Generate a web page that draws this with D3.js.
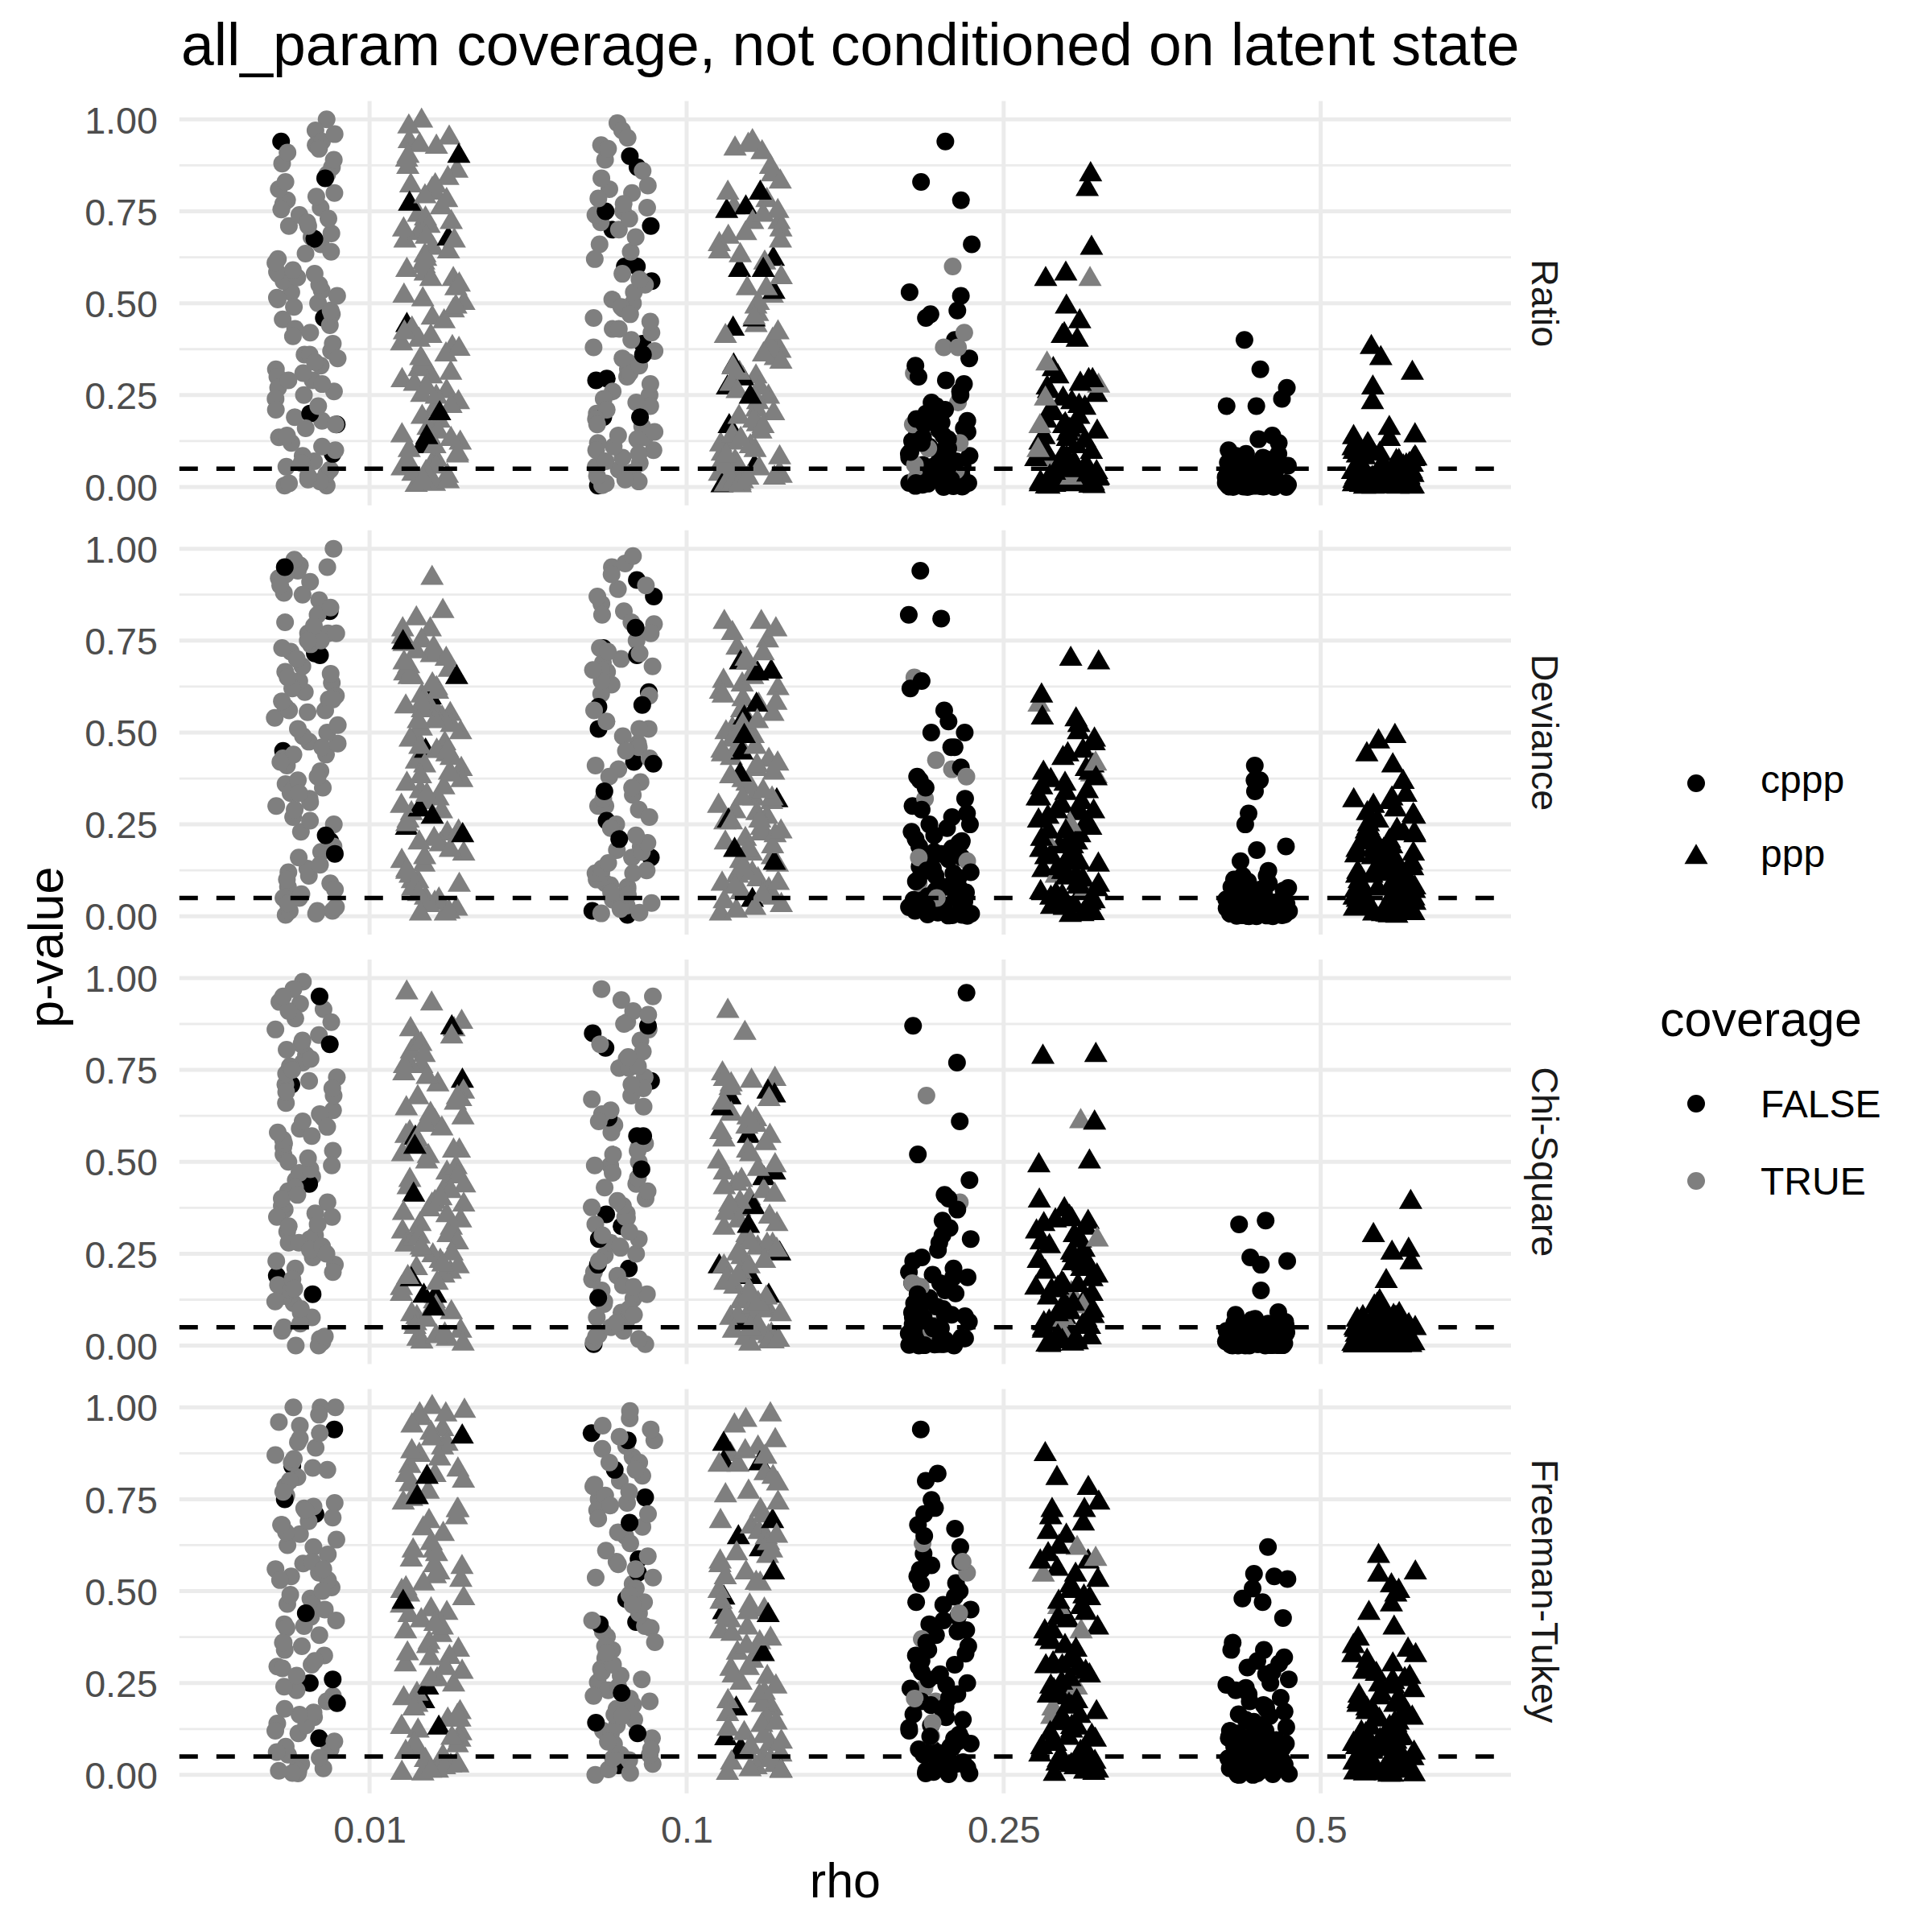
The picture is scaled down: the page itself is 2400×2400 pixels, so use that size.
<!DOCTYPE html>
<html><head><meta charset="utf-8">
<script src="https://cdn.jsdelivr.net/npm/d3@7"></script>
<style>
body{margin:0;background:#fff}
svg text{font-family:"Liberation Sans",Arial,Helvetica,sans-serif}
</style>
</head><body>
<svg id="chart" width="2400" height="2400"></svg>
<script>
// ---------------- data ----------------
const statistics = ["Ratio", "Deviance", "Chi-Square", "Freeman-Tukey"];
const rhoLevels = ["0.01", "0.1", "0.25", "0.5"];
const methods = ["cppp", "ppp"];
const coverageLevels = ["FALSE", "TRUE"];
const yTicks = [0, 0.25, 0.5, 0.75, 1];
const yMinorTicks = [0.125, 0.375, 0.625, 0.875];
const alphaLevel = 0.05;
const titleText = "all_param coverage, not conditioned on latent state";

// each array: 8 groups in order [0.01 cppp, 0.01 ppp, 0.1 cppp, 0.1 ppp, 0.25 cppp, 0.25 ppp, 0.5 cppp, 0.5 ppp]
const ratioNotCovered = [
  [0.94,0.84,0.675,0.46,0.20,0.17,0.09],
  [0.90,0.77,0.675,0.44,0.20,0.135,0.11],
  [0.90,0.87,0.75,0.71,0.70,0.60,0.60,0.56,0.39,0.36,0.295,0.29,0.19,0.19,0.004,0.008],
  [0.80,0.76,0.75,0.62,0.59,0.59,0.53,0.455,0.43,0.33,0.295,0.27,0.245,0.165,0.055,0.004],
  [0.94,0.83,0.78,0.66,0.53,0.52,0.48,0.47,0.46,0.40,0.35,0.33,0.30,0.29,0.28,0.26,0.23,0.20,0.18,0.185,0.17,0.14,0.135,0.12,0.10,0.085,0.06,0.04,0.033,0.018,0.011,0.011,0.011,0.004,0.004,0.03,0.025,0.055,0.09,0.14,0.07,0.05,0.02,0.008,0.015,0.11,0.16,0.22,
   0.25,0.21,0.19,0.175,0.155,0.15,0.13,0.125,0.115,0.105,0.095,0.08,0.075,0.065,0.062,0.058,0.052,0.048,0.045,0.042,0.038,0.036,0.028,0.022,0.016,0.012,0.009,0.006,0.003,0.002,0.001,0.0],
  [0.85,0.81,0.65,0.565,0.58,0.49,0.45,0.41,0.415,0.40,0.32,0.30,0.29,0.29,0.28,0.26,0.215,0.20,0.205,0.165,0.165,0.135,0.13,0.12,0.09,0.09,0.06,0.06,0.033,0.025,0.007,0.007,0.007,0.015,0.047,0.04,0.23,0.18,0.15,0.11,0.075,0.05,0.02,0.01,0.035,0.25,
   0.27,0.24,0.22,0.19,0.17,0.155,0.145,0.125,0.105,0.095,0.085,0.08,0.07,0.065,0.055,0.052,0.045,0.042,0.038,0.03,0.028,0.022,0.018,0.012,0.009,0.005,0.003,0.002,0.001,0.0],
  [0.40,0.32,0.27,0.24,0.22,0.22,0.14,0.13,0.09,0.09,0.085,0.055,0.062,0.066,0.058,0.033,0.04,0.033,0.029,0.011,0.011,0.011,0.011,0.011,0.022,0.022,0.022,0.047,0.005,0.005,0.005,0.015,0.015,0.025,0.035,0.045,0.07,0.075,0.002,0.008,
   0.12,0.10,0.08,0.065,0.06,0.052,0.05,0.048,0.043,0.04,0.038,0.036,0.031,0.028,0.027,0.024,0.02,0.019,0.018,0.016,0.014,0.013,0.012,0.01,0.009,0.007,0.006,0.004,0.003,0.003,0.002,0.001,0.001,0.0,0.0,0.0,0.017,0.021,0.026,0.034,0.044,0.009,0.012,0.005,0.003,0.002,0.001,0.0],
  [0.38,0.35,0.31,0.27,0.23,0.16,0.14,0.135,0.115,0.115,0.10,0.085,0.07,0.077,0.062,0.07,0.047,0.04,0.04,0.04,0.033,0.018,0.015,0.018,0.018,0.007,0.007,0.026,0.005,0.01,0.012,0.03,0.05,0.055,0.09,0.08,0.025,0.002,0.06,
   0.13,0.12,0.105,0.095,0.08,0.075,0.065,0.058,0.052,0.048,0.045,0.042,0.038,0.036,0.032,0.028,0.026,0.022,0.02,0.016,0.014,0.013,0.011,0.009,0.008,0.006,0.004,0.003,0.002,0.001,0.0,0.0,0.024,0.035,0.043,0.019,0.01,0.007,0.003,0.001,0.0,0.0,0.015,0.02,0.005]
];
const ratioCovered = [
  [1.0,0.96,0.94,0.93,0.91,0.89,0.88,0.85,0.83,0.81,0.80,0.78,0.76,0.755,0.74,0.73,0.71,0.71,0.68,0.635,0.62,0.58,0.59,0.58,0.585,0.57,0.535,0.515,0.52,0.51,0.49,0.48,0.456,0.42,0.41,0.36,0.36,0.33,0.34,0.31,0.29,0.29,0.27,0.25,0.24,0.19,0.17,0.14,0.135,0.085,0.065,0.047,0.02,0.015,0.004,0.004,
   0.97,0.92,0.87,0.79,0.77,0.72,0.69,0.66,0.64,0.61,0.56,0.55,0.53,0.50,0.47,0.44,0.43,0.39,0.37,0.35,0.32,0.30,0.28,0.26,0.22,0.21,0.18,0.16,0.12,0.11,0.10,0.07,0.055,0.035,0.03,0.01],
  [0.996,0.95,0.925,0.93,0.89,0.90,0.86,0.82,0.82,0.81,0.80,0.74,0.73,0.72,0.70,0.67,0.67,0.63,0.62,0.58,0.54,0.565,0.565,0.48,0.50,0.41,0.43,0.38,0.375,0.35,0.32,0.28,0.29,0.245,0.22,0.19,0.11,0.10,0.085,0.05,0.055,0.06,0.01,0.01,0.02,0.60,0.52,0.45,0.40,0.33,0.26,0.16,0.14,0.07,0.03,0.005,0.76,0.68,
   0.98,0.94,0.87,0.84,0.79,0.78,0.71,0.69,0.65,0.64,0.61,0.59,0.55,0.51,0.49,0.46,0.42,0.39,0.36,0.34,0.31,0.30,0.27,0.25,0.23,0.21,0.18,0.15,0.13,0.12,0.09,0.075,0.04,0.035,0.015,0.008],
  [0.97,0.95,0.92,0.86,0.82,0.80,0.785,0.74,0.75,0.76,0.70,0.72,0.66,0.565,0.55,0.51,0.49,0.485,0.46,0.43,0.43,0.40,0.35,0.33,0.34,0.31,0.30,0.24,0.22,0.21,0.165,0.185,0.135,0.13,0.14,0.10,0.10,0.055,0.047,0.035,0.03,
   0.99,0.93,0.89,0.84,0.81,0.77,0.73,0.68,0.64,0.62,0.58,0.53,0.50,0.47,0.45,0.42,0.38,0.37,0.32,0.28,0.26,0.25,0.23,0.20,0.17,0.15,0.12,0.11,0.09,0.08,0.07,0.065,0.04,0.02,0.015,0.01,0.005],
  [0.94,0.91,0.92,0.83,0.80,0.78,0.75,0.72,0.72,0.70,0.68,0.66,0.64,0.63,0.54,0.54,0.47,0.46,0.41,0.38,0.36,0.34,0.325,0.31,0.245,0.23,0.20,0.165,0.14,0.12,0.115,0.09,0.06,0.055,0.033,0.025,0.025,0.004,0.015,0.07,0.045,0.01,0.08,0.02,0.50,0.27,0.18,
   0.93,0.87,0.85,0.76,0.74,0.69,0.67,0.61,0.57,0.52,0.49,0.44,0.42,0.40,0.37,0.35,0.30,0.28,0.26,0.21,0.19,0.17,0.15,0.13,0.11,0.10,0.085,0.065,0.05,0.04,0.035,0.03,0.012,0.008,0.006],
  [0.60,0.42,0.38,0.38,0.31,0.23,0.17,0.12,0.105,0.06,0.045,0.025],
  [0.565,0.335,0.275,0.24,0.14,0.165,0.10,0.075,0.025],
  [],
  []
];
const devianceNotCovered = [
  [0.95,0.83,0.715,0.71,0.45,0.205,0.22,0.17],
  [0.745,0.65,0.595,0.45,0.29,0.27,0.24,0.22],
  [0.915,0.87,0.785,0.73,0.71,0.61,0.575,0.57,0.51,0.42,0.415,0.34,0.26,0.21,0.16,0.015,0.004],
  [0.69,0.665,0.66,0.575,0.54,0.49,0.445,0.385,0.315,0.26,0.18,0.145,0.044],
  [0.94,0.82,0.81,0.64,0.62,0.56,0.53,0.50,0.50,0.46,0.46,0.405,0.38,0.37,0.32,0.29,0.28,0.25,0.25,0.20,0.20,0.205,0.175,0.14,0.11,0.08,0.08,0.044,0.044,0.007,0.015,0.004,0.015,0.007,0.05,0.05,0.117,0.03,0.02,0.06,0.10,0.13,0.23,0.16,0.09,
   0.35,0.30,0.27,0.24,0.22,0.21,0.19,0.185,0.17,0.155,0.145,0.135,0.125,0.12,0.105,0.095,0.085,0.075,0.07,0.065,0.055,0.045,0.04,0.035,0.028,0.025,0.018,0.012,0.01,0.005,0.003,0.002,0.001],
  [0.69,0.70,0.60,0.54,0.52,0.535,0.50,0.48,0.43,0.39,0.39,0.375,0.32,0.335,0.32,0.30,0.285,0.285,0.24,0.21,0.21,0.18,0.175,0.16,0.13,0.14,0.11,0.10,0.073,0.044,0.036,0.015,0.022,0.036,0.45,0.41,0.36,0.27,0.23,0.19,0.12,0.06,0.02,0.005,
   0.47,0.44,0.40,0.37,0.35,0.34,0.31,0.29,0.28,0.26,0.25,0.23,0.22,0.20,0.19,0.17,0.165,0.15,0.145,0.125,0.12,0.105,0.09,0.085,0.08,0.065,0.055,0.05,0.04,0.03,0.025,0.012,0.008,0.003],
  [0.41,0.37,0.37,0.34,0.28,0.25,0.18,0.19,0.15,0.124,0.11,0.11,0.10,0.08,0.08,0.08,0.073,0.05,0.05,0.044,0.044,0.05,0.022,0.015,0.007,0.015,0.022,0.029,0.005,0.003,0.01,0.03,0.035,0.06,0.065,0.09,0.012,
   0.095,0.085,0.075,0.07,0.066,0.062,0.058,0.055,0.052,0.048,0.046,0.042,0.04,0.038,0.036,0.033,0.031,0.028,0.026,0.024,0.02,0.018,0.017,0.016,0.013,0.011,0.009,0.008,0.006,0.004,0.004,0.002,0.001,0.001,0.0,0.0,0.027,0.034,0.039,0.043,0.019,0.014,0.007,0.003,0.002,0.0,0.056,0.068,0.077],
  [0.49,0.475,0.44,0.41,0.365,0.33,0.31,0.315,0.32,0.30,0.28,0.275,0.225,0.22,0.22,0.225,0.18,0.175,0.18,0.14,0.13,0.13,0.117,0.088,0.095,0.088,0.044,0.044,0.05,0.036,0.015,0.007,0.022,0.022,0.26,0.24,0.20,0.16,0.15,0.11,0.07,0.06,0.03,0.01,
   0.29,0.27,0.25,0.235,0.21,0.205,0.19,0.17,0.165,0.155,0.145,0.135,0.125,0.12,0.11,0.105,0.10,0.09,0.085,0.08,0.075,0.068,0.065,0.058,0.055,0.048,0.045,0.04,0.038,0.033,0.028,0.025,0.02,0.018,0.012,0.008,0.005,0.004,0.002,0.001,0.23,0.185,0.16,0.14,0.115,0.095,0.078,0.062]
];
const devianceCovered = [
  [1.0,0.94,0.955,0.95,0.93,0.91,0.90,0.875,0.86,0.84,0.80,0.77,0.77,0.75,0.75,0.77,0.73,0.72,0.64,0.65,0.665,0.635,0.59,0.60,0.585,0.59,0.56,0.56,0.555,0.52,0.50,0.475,0.44,0.44,0.46,0.43,0.395,0.35,0.335,0.36,0.335,0.32,0.29,0.27,0.175,0.14,0.13,0.10,0.073,0.05,0.015,0.015,0.007,0.015,0.05,
   0.97,0.92,0.88,0.82,0.79,0.74,0.70,0.68,0.66,0.62,0.61,0.57,0.54,0.51,0.49,0.47,0.42,0.41,0.38,0.37,0.34,0.31,0.30,0.26,0.25,0.23,0.19,0.16,0.12,0.11,0.09,0.08,0.06,0.035,0.025,0.004],
  [0.92,0.83,0.78,0.78,0.76,0.74,0.72,0.71,0.70,0.68,0.67,0.65,0.65,0.61,0.575,0.56,0.53,0.55,0.53,0.51,0.50,0.445,0.45,0.45,0.46,0.40,0.39,0.385,0.36,0.34,0.33,0.30,0.285,0.225,0.18,0.195,0.14,0.125,0.095,0.095,0.036,0.007,0.02,0.007,0.62,0.58,0.48,0.42,0.37,0.26,0.16,0.06,0.69,0.54,
   0.81,0.75,0.73,0.72,0.66,0.63,0.60,0.57,0.56,0.52,0.49,0.47,0.44,0.43,0.41,0.38,0.35,0.32,0.31,0.28,0.25,0.23,0.21,0.20,0.17,0.15,0.12,0.11,0.085,0.075,0.05,0.045,0.03,0.012],
  [0.98,0.95,0.90,0.89,0.83,0.82,0.795,0.75,0.715,0.70,0.67,0.69,0.67,0.665,0.63,0.605,0.51,0.51,0.46,0.45,0.41,0.365,0.32,0.30,0.30,0.24,0.20,0.175,0.16,0.145,0.117,0.117,0.10,0.117,0.073,0.08,0.058,0.029,0.036,
   0.96,0.93,0.87,0.85,0.80,0.77,0.73,0.72,0.68,0.64,0.60,0.56,0.53,0.49,0.47,0.43,0.40,0.38,0.35,0.33,0.29,0.27,0.25,0.22,0.19,0.18,0.13,0.125,0.09,0.085,0.065,0.05,0.045,0.02,0.01,0.008],
  [0.80,0.80,0.75,0.715,0.64,0.65,0.63,0.62,0.575,0.59,0.52,0.53,0.49,0.46,0.465,0.415,0.425,0.38,0.40,0.32,0.32,0.32,0.285,0.255,0.255,0.225,0.22,0.16,0.17,0.11,0.117,0.088,0.073,0.058,0.007,0.022,0.60,0.50,0.44,0.35,0.27,0.20,0.13,0.10,0.05,0.69,
   0.78,0.77,0.73,0.70,0.67,0.61,0.58,0.56,0.55,0.51,0.48,0.45,0.43,0.41,0.39,0.37,0.36,0.34,0.31,0.30,0.28,0.26,0.24,0.23,0.21,0.19,0.18,0.15,0.14,0.12,0.09,0.08,0.065,0.04,0.03,0.015],
  [0.65,0.425,0.40,0.38,0.32,0.16,0.15,0.09,0.05],
  [0.575,0.415,0.385,0.38,0.25,0.21,0.11,0.073],
  [],
  []
];
const chiSquareNotCovered = [
  [0.95,0.82,0.71,0.44,0.19,0.14],
  [0.865,0.72,0.565,0.54,0.41,0.18,0.135,0.135,0.10],
  [0.87,0.85,0.81,0.72,0.62,0.57,0.57,0.48,0.357,0.325,0.29,0.21,0.22,0.13,0.004],
  [0.69,0.675,0.68,0.645,0.57,0.455,0.47,0.376,0.325,0.25,0.215,0.186,0.135,0.062,0.018],
  [0.96,0.87,0.77,0.61,0.52,0.45,0.40,0.41,0.37,0.34,0.32,0.29,0.28,0.24,0.186,0.186,0.193,0.142,0.12,0.12,0.106,0.084,0.077,0.077,0.047,0.033,0.033,0.018,0.004,0.004,0.004,0.004,0.047,0.01,0.02,0.06,0.10,0.15,0.17,0.025,0.09,
   0.30,0.26,0.23,0.21,0.20,0.17,0.16,0.14,0.13,0.115,0.11,0.095,0.085,0.08,0.07,0.065,0.058,0.052,0.05,0.044,0.038,0.035,0.03,0.028,0.022,0.015,0.012,0.008,0.006,0.003,0.002,0.001,0.0,0.0],
  [0.785,0.79,0.606,0.50,0.49,0.394,0.336,0.34,0.33,0.343,0.285,0.252,0.26,0.245,0.208,0.223,0.208,0.164,0.157,0.157,0.12,0.113,0.113,0.077,0.07,0.055,0.025,0.018,0.011,0.025,0.04,0.30,0.18,0.14,0.09,0.06,0.005,0.035,
   0.37,0.35,0.32,0.31,0.28,0.27,0.24,0.23,0.22,0.20,0.19,0.17,0.165,0.15,0.13,0.125,0.105,0.10,0.095,0.085,0.08,0.065,0.058,0.05,0.045,0.038,0.03,0.022,0.015,0.012,0.008,0.004,0.002,0.001],
  [0.33,0.34,0.24,0.23,0.22,0.15,0.084,0.091,0.073,0.055,0.055,0.047,0.047,0.025,0.018,0.011,0.018,0.011,0.004,0.033,0.005,0.008,0.015,0.03,0.04,0.06,0.065,0.02,0.012,0.002,
   0.07,0.062,0.058,0.052,0.05,0.045,0.043,0.042,0.038,0.036,0.035,0.032,0.029,0.028,0.027,0.026,0.023,0.022,0.021,0.019,0.017,0.016,0.014,0.013,0.012,0.011,0.01,0.009,0.008,0.007,0.006,0.006,0.005,0.004,0.004,0.003,0.003,0.002,0.002,0.001,0.001,0.0,0.0,0.0,0.016,0.024,0.031,0.009,0.005,0.002,0.0,0.001,0.003,0.012,0.007,0.0,0.002,0.004],
  [0.39,0.30,0.26,0.252,0.226,0.175,0.11,0.12,0.106,0.10,0.077,0.055,0.047,0.055,0.047,0.04,0.025,0.018,0.025,0.018,0.004,0.004,0.033,0.004,0.004,0.07,0.065,0.09,0.03,0.012,0.008,0.015,0.06,
   0.085,0.08,0.075,0.068,0.062,0.058,0.052,0.05,0.045,0.043,0.042,0.038,0.036,0.035,0.032,0.029,0.028,0.027,0.024,0.022,0.021,0.02,0.019,0.017,0.016,0.014,0.013,0.011,0.01,0.009,0.008,0.007,0.006,0.005,0.004,0.003,0.003,0.002,0.002,0.001,0.001,0.0,0.0,0.0,0.0,0.026,0.037,0.011,0.006,0.002,0.0,0.001,0.014,0.009,0.003]
];
const chiSquareCovered = [
  [0.99,0.95,0.915,0.935,0.91,0.88,0.845,0.82,0.805,0.78,0.77,0.76,0.75,0.71,0.72,0.68,0.69,0.63,0.595,0.61,0.58,0.56,0.54,0.52,0.48,0.49,0.50,0.47,0.43,0.43,0.41,0.39,0.37,0.38,0.35,0.35,0.31,0.325,0.28,0.28,0.27,0.24,0.23,0.21,0.165,0.155,0.135,0.115,0.077,0.025,0.018,0.0,0.0,0.04,
   0.97,0.93,0.89,0.86,0.83,0.79,0.74,0.73,0.70,0.66,0.64,0.62,0.59,0.57,0.55,0.53,0.51,0.46,0.45,0.42,0.40,0.36,0.33,0.30,0.29,0.26,0.25,0.22,0.20,0.18,0.15,0.12,0.10,0.09,0.06,0.05,0.01],
  [0.96,0.88,0.86,0.86,0.82,0.82,0.76,0.77,0.76,0.73,0.71,0.67,0.675,0.675,0.645,0.62,0.59,0.58,0.56,0.53,0.53,0.515,0.485,0.43,0.435,0.43,0.39,0.383,0.383,0.354,0.34,0.30,0.296,0.28,0.274,0.266,0.245,0.215,0.186,0.156,0.077,0.07,0.106,0.018,0.018,0.025,0.60,0.46,0.33,0.23,0.20,0.05,0.04,
   0.93,0.84,0.80,0.79,0.74,0.69,0.66,0.63,0.61,0.57,0.55,0.52,0.50,0.47,0.45,0.42,0.40,0.37,0.36,0.32,0.31,0.29,0.26,0.25,0.22,0.21,0.19,0.17,0.14,0.12,0.09,0.085,0.06,0.03,0.01,0.005],
  [0.97,0.94,0.88,0.875,0.86,0.80,0.785,0.78,0.755,0.755,0.71,0.68,0.65,0.63,0.60,0.53,0.52,0.49,0.49,0.456,0.43,0.394,0.376,0.36,0.347,0.31,0.30,0.28,0.266,0.245,0.18,0.164,0.14,0.113,0.128,0.084,0.062,0.077,0.025,0.018,0.004,
   0.95,0.91,0.90,0.83,0.82,0.76,0.73,0.70,0.67,0.64,0.61,0.58,0.55,0.54,0.50,0.47,0.44,0.42,0.40,0.38,0.35,0.33,0.29,0.27,0.25,0.23,0.20,0.19,0.16,0.15,0.12,0.10,0.09,0.07,0.05,0.04,0.03,0.01],
  [0.91,0.85,0.725,0.74,0.725,0.70,0.63,0.595,0.615,0.55,0.58,0.48,0.49,0.43,0.42,0.37,0.383,0.383,0.33,0.274,0.266,0.274,0.215,0.215,0.18,0.14,0.15,0.106,0.106,0.10,0.062,0.047,0.011,0.011,0.033,0.30,0.24,0.16,0.08,0.09,0.02,0.52,0.40,
   0.72,0.71,0.67,0.66,0.62,0.60,0.57,0.56,0.53,0.50,0.47,0.45,0.44,0.41,0.39,0.36,0.35,0.34,0.32,0.29,0.28,0.26,0.25,0.23,0.20,0.19,0.17,0.13,0.12,0.115,0.095,0.085,0.075,0.055,0.04,0.03,0.025,0.015,0.005],
  [0.68,0.39,0.17,0.16,0.106,0.055,0.04,0.018],
  [0.61,0.288,0.142,0.106,0.07,0.033],
  [],
  []
];
const freemanTukeyNotCovered = [
  [0.94,0.84,0.75,0.71,0.44,0.25,0.26,0.195,0.10],
  [0.92,0.81,0.755,0.47,0.237,0.20,0.128],
  [0.93,0.91,0.83,0.755,0.686,0.587,0.55,0.478,0.416,0.41,0.223,0.142,0.113,0.026],
  [0.90,0.847,0.85,0.69,0.646,0.613,0.55,0.482,0.434,0.442,0.328,0.18,0.099,0.07,0.011],
  [0.94,0.82,0.80,0.748,0.726,0.71,0.67,0.602,0.58,0.558,0.558,0.522,0.485,0.463,0.42,0.394,0.36,0.34,0.325,0.274,0.295,0.26,0.245,0.186,0.157,0.128,0.099,0.07,0.07,0.077,0.04,0.026,0.011,0.004,0.004,0.099,0.50,0.45,0.38,0.31,0.22,0.20,0.17,0.11,0.05,0.015,
   0.68,0.65,0.62,0.57,0.54,0.52,0.47,0.43,0.41,0.39,0.35,0.33,0.30,0.28,0.27,0.25,0.235,0.21,0.19,0.18,0.165,0.15,0.135,0.12,0.105,0.09,0.085,0.075,0.06,0.055,0.045,0.035,0.03,0.02,0.008,0.002],
  [0.872,0.807,0.74,0.72,0.72,0.683,0.65,0.58,0.58,0.544,0.515,0.485,0.47,0.456,0.427,0.39,0.39,0.361,0.34,0.295,0.295,0.288,0.303,0.223,0.215,0.20,0.128,0.113,0.106,0.084,0.062,0.055,0.026,0.011,0.026,0.04,0.25,0.17,0.14,0.09,0.03,0.005,
   0.78,0.70,0.66,0.62,0.60,0.56,0.53,0.50,0.48,0.44,0.42,0.40,0.37,0.35,0.32,0.31,0.28,0.27,0.26,0.24,0.23,0.21,0.19,0.185,0.16,0.15,0.13,0.12,0.10,0.095,0.075,0.07,0.05,0.045,0.035,0.02,0.015,0.008,0.002],
  [0.62,0.54,0.547,0.533,0.507,0.47,0.427,0.34,0.34,0.292,0.303,0.274,0.237,0.245,0.23,0.20,0.186,0.172,0.142,0.135,0.113,0.12,0.135,0.113,0.084,0.077,0.091,0.077,0.04,0.047,0.047,0.04,0.011,0.011,0.011,0.026,0.018,0.062,0.10,0.06,0.03,0.005,0.055,0.08,0.025,
   0.48,0.36,0.32,0.31,0.28,0.26,0.25,0.22,0.21,0.19,0.18,0.165,0.16,0.15,0.145,0.13,0.125,0.12,0.105,0.10,0.095,0.088,0.085,0.082,0.075,0.072,0.068,0.065,0.058,0.052,0.05,0.045,0.043,0.038,0.035,0.033,0.028,0.022,0.02,0.015,0.013,0.009,0.007,0.004,0.003,0.002,0.001,0.0,0.0,0.065,0.11,0.095,0.06,0.03,0.02],
  [0.595,0.55,0.544,0.515,0.49,0.463,0.40,0.35,0.325,0.325,0.31,0.26,0.274,0.266,0.252,0.245,0.215,0.20,0.18,0.164,0.142,0.142,0.12,0.128,0.099,0.106,0.084,0.062,0.055,0.055,0.04,0.033,0.018,0.011,0.018,0.011,0.23,0.19,0.15,0.09,0.075,0.045,0.025,0.005,
   0.50,0.44,0.37,0.34,0.30,0.29,0.28,0.255,0.24,0.22,0.21,0.205,0.19,0.175,0.17,0.16,0.155,0.135,0.13,0.115,0.11,0.10,0.095,0.088,0.08,0.078,0.07,0.065,0.06,0.05,0.048,0.045,0.038,0.035,0.03,0.028,0.022,0.02,0.015,0.012,0.008,0.006,0.004,0.003,0.002,0.001,0.0,0.0]
];
const freemanTukeyCovered = [
  [1.0,1.0,1.0,0.96,0.95,0.915,0.905,0.89,0.86,0.835,0.83,0.81,0.785,0.76,0.74,0.72,0.725,0.70,0.68,0.68,0.655,0.64,0.625,0.575,0.58,0.56,0.56,0.55,0.53,0.53,0.49,0.48,0.465,0.465,0.42,0.40,0.405,0.35,0.36,0.36,0.325,0.295,0.29,0.24,0.215,0.157,0.164,0.135,0.113,0.091,0.062,0.077,0.011,0.018,0.004,0.011,0.047,
   0.98,0.93,0.87,0.85,0.80,0.77,0.73,0.69,0.66,0.62,0.60,0.54,0.51,0.50,0.45,0.43,0.41,0.38,0.34,0.31,0.30,0.27,0.23,0.20,0.18,0.17,0.14,0.12,0.08,0.07,0.055,0.03,0.025,0.005],
  [1.0,0.99,0.98,0.98,0.94,0.95,0.915,0.89,0.87,0.88,0.84,0.815,0.815,0.79,0.74,0.72,0.72,0.69,0.655,0.61,0.61,0.585,0.565,0.55,0.52,0.507,0.49,0.434,0.44,0.42,0.39,0.40,0.36,0.33,0.30,0.317,0.26,0.26,0.245,0.208,0.15,0.15,0.15,0.113,0.084,0.062,0.07,0.025,0.011,0.011,0.025,0.57,0.45,0.34,0.18,0.10,0.04,0.003,
   0.97,0.93,0.90,0.86,0.83,0.80,0.77,0.75,0.70,0.67,0.63,0.60,0.54,0.53,0.50,0.48,0.46,0.41,0.38,0.35,0.32,0.29,0.28,0.22,0.19,0.17,0.16,0.13,0.12,0.095,0.08,0.05,0.03,0.02,0.005],
  [0.99,0.95,0.895,0.91,0.887,0.85,0.85,0.865,0.814,0.785,0.77,0.76,0.733,0.74,0.697,0.675,0.63,0.595,0.573,0.537,0.537,0.507,0.463,0.42,0.405,0.376,0.361,0.332,0.317,0.288,0.26,0.252,0.208,0.215,0.20,0.164,0.135,0.15,0.113,0.084,0.055,0.055,0.0,0.04,
   0.97,0.94,0.92,0.83,0.80,0.79,0.75,0.72,0.71,0.66,0.65,0.61,0.58,0.56,0.52,0.49,0.47,0.44,0.40,0.39,0.35,0.34,0.30,0.28,0.27,0.24,0.23,0.19,0.18,0.16,0.12,0.10,0.09,0.07,0.045,0.03,0.015,0.005],
  [0.98,0.965,0.91,0.865,0.872,0.865,0.843,0.792,0.843,0.74,0.705,0.675,0.66,0.646,0.595,0.602,0.58,0.537,0.522,0.449,0.442,0.42,0.383,0.39,0.332,0.288,0.266,0.223,0.215,0.15,0.135,0.142,0.113,0.084,0.047,0.026,0.011,0.033,0.50,0.36,0.25,0.19,0.06,0.015,
   0.95,0.89,0.88,0.82,0.81,0.77,0.76,0.72,0.69,0.65,0.63,0.61,0.57,0.55,0.52,0.47,0.46,0.43,0.40,0.37,0.35,0.33,0.31,0.29,0.27,0.24,0.20,0.18,0.165,0.125,0.105,0.09,0.075,0.055,0.04,0.02,0.005],
  [0.63,0.58,0.55,0.44,0.37,0.237,0.20,0.208,0.142,0.106],
  [0.617,0.587,0.544,0.456,0.39,0.237,0.18,0.157],
  [],
  []
];
const notCoveredByStatistic = [ratioNotCovered, devianceNotCovered, chiSquareNotCovered, freemanTukeyNotCovered];
const coveredByStatistic = [ratioCovered, devianceCovered, chiSquareCovered, freemanTukeyCovered];

// ---------------- layout ----------------
const W = 2400, H = 2400;
const panelLeft = 222.8, panelRight = 1877;
const panelTop0 = 125.5, panelH = 502.3, panelGap = 31;
const colorFor = {FALSE: "#000000", TRUE: "#7F7F7F"};
const gridCol = "#EBEBEB";
const circleR = 11;
const triSide = 29;
const triArea = Math.sqrt(3) / 4 * triSide * triSide;
const fontStack = '"Liberation Sans", Arial, sans-serif';

const svg = d3.select("#chart");
svg.append("rect").attr("width", W).attr("height", H).attr("fill", "#fff");

const x = d3.scalePoint().domain(rhoLevels).range([panelLeft, panelRight]).padding(0.6);
const step = x.step();
const dodge = {cppp: -0.2 * step, ppp: 0.2 * step};
const jitterW = 0.1 * step;

// deterministic stand-in for ggplot's position jitter (position only, not data)
function jit(k) { const v = Math.sin(k * 127.1 + 311.7) * 43758.5453; return (v - Math.floor(v)) * 2 - 1; }
function ord(k) { const v = Math.sin(k * 269.5 + 183.3) * 24634.6345; return v - Math.floor(v); }

const circlePath = d3.symbol().type(d3.symbolCircle).size(Math.PI * circleR * circleR)();
const triPath = d3.symbol().type(d3.symbolTriangle).size(triArea)();
const shapeFor = {cppp: circlePath, ppp: triPath};

let counter = 0;
statistics.forEach((stat, si) => {
  const top = panelTop0 + si * (panelH + panelGap);
  const y = d3.scaleLinear().domain([-0.05, 1.05]).range([top + panelH, top]);
  const g = svg.append("g");

  g.selectAll(".minor").data(yMinorTicks).join("line")
    .attr("x1", panelLeft).attr("x2", panelRight)
    .attr("y1", d => y(d)).attr("y2", d => y(d))
    .attr("stroke", gridCol).attr("stroke-width", 2.8);
  g.selectAll(".major").data(yTicks).join("line")
    .attr("x1", panelLeft).attr("x2", panelRight)
    .attr("y1", d => y(d)).attr("y2", d => y(d))
    .attr("stroke", gridCol).attr("stroke-width", 5);
  g.selectAll(".vmajor").data(rhoLevels).join("line")
    .attr("x1", d => x(d)).attr("x2", d => x(d))
    .attr("y1", top).attr("y2", top + panelH)
    .attr("stroke", gridCol).attr("stroke-width", 5);

  const ax = d3.axisLeft(y).tickValues(yTicks).tickFormat(d3.format(".2f")).tickSize(0).tickPadding(26.8);
  const axg = svg.append("g").attr("transform", `translate(${panelLeft},0)`).call(ax);
  axg.select(".domain").remove();
  axg.selectAll("text").attr("dy", "0.358em").attr("fill", "#4D4D4D")
    .style("font-size", "46.7px").style("font-family", fontStack);

  const pts = [];
  rhoLevels.forEach((rho, ri) => {
    methods.forEach((m, mi) => {
      const gi = ri * 2 + mi;
      [["FALSE", notCoveredByStatistic[si][gi]], ["TRUE", coveredByStatistic[si][gi]]].forEach(([cov, arr]) => {
        arr.forEach(v => {
          counter++;
          pts.push({rho, m, cov, v, j: jit(counter), o: ord(counter)});
        });
      });
    });
  });
  pts.sort((a, b) => a.o - b.o);
  g.selectAll(".pt").data(pts).join("path")
    .attr("d", d => shapeFor[d.m])
    .attr("transform", d => `translate(${x(d.rho) + dodge[d.m] + d.j * jitterW},${y(d.v)})`)
    .attr("fill", d => colorFor[d.cov]);

  g.append("line")
    .attr("x1", panelLeft).attr("x2", panelRight)
    .attr("y1", y(alphaLevel)).attr("y2", y(alphaLevel))
    .attr("stroke", "#000").attr("stroke-width", 5.5).attr("stroke-dasharray", "23,23");

  svg.append("text")
    .attr("transform", `translate(1903,${top + panelH / 2}) rotate(90)`)
    .attr("text-anchor", "middle")
    .attr("fill", "#1A1A1A").style("font-size", "46.7px")
    .text(stat);
});

const lastTop = panelTop0 + 3 * (panelH + panelGap);
const xAx = d3.axisBottom(x).tickSize(0).tickPadding(0);
const xg = svg.append("g").attr("transform", `translate(0,${lastTop + panelH})`).call(xAx);
xg.select(".domain").remove();
xg.selectAll("text").attr("y", 61.5).attr("dy", null).attr("fill", "#4D4D4D")
  .style("font-size", "46.7px").style("font-family", fontStack);

svg.append("text").attr("x", (panelLeft + panelRight) / 2).attr("y", 2357)
  .attr("text-anchor", "middle").style("font-size", "61px").attr("fill", "#000").text("rho");
svg.append("text")
  .attr("transform", `translate(78,${(panelTop0 + lastTop + panelH) / 2}) rotate(-90)`)
  .attr("text-anchor", "middle").style("font-size", "61px").attr("fill", "#000").text("p-value");

svg.append("text").attr("x", 225).attr("y", 81).style("font-size", "73.3px").attr("fill", "#000").text(titleText);

const keyX = 2107, labX = 2187;
const shapeLegend = [{m: "cppp", y: 973}, {m: "ppp", y: 1065}];
shapeLegend.forEach(d => {
  svg.append("path").attr("d", shapeFor[d.m]).attr("transform", `translate(${keyX},${d.y})`).attr("fill", "#000");
  svg.append("text").attr("x", labX).attr("y", d.y).attr("dy", "0.26em").style("font-size", "48px").attr("fill", "#000").text(d.m);
});
svg.append("text").attr("x", 2062).attr("y", 1287).style("font-size", "61px").attr("fill", "#000").text("coverage");
const covLegend = [{c: "FALSE", y: 1371}, {c: "TRUE", y: 1467}];
covLegend.forEach(d => {
  svg.append("path").attr("d", circlePath).attr("transform", `translate(${keyX},${d.y})`).attr("fill", colorFor[d.c]);
  svg.append("text").attr("x", labX).attr("y", d.y).attr("dy", "0.358em").style("font-size", "48px").attr("fill", "#000").text(d.c);
});
</script>
</body></html>
